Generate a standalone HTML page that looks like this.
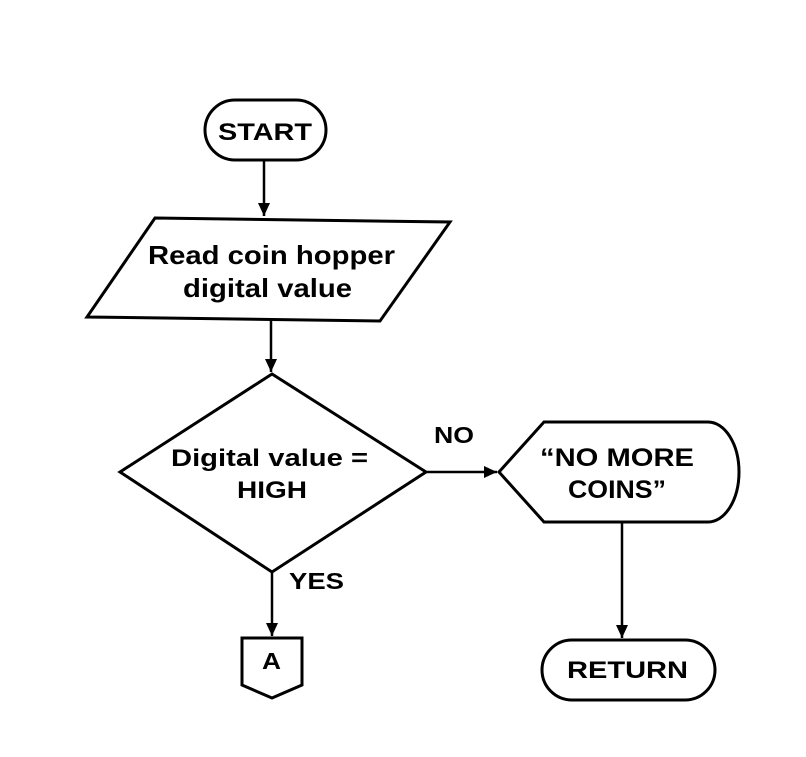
<!DOCTYPE html>
<html><head><style>body{margin:0;background:#fff}svg{display:block}</style></head><body>
<svg width="806" height="757" viewBox="0 0 806 757" xmlns="http://www.w3.org/2000/svg">
<defs>
<marker id="b" markerWidth="14" markerHeight="14" refX="13" refY="6" orient="auto" markerUnits="userSpaceOnUse"><path d="M0,0 L13,6 L0,12 z" fill="#000"/></marker></defs>
<g fill="none" stroke="#000" stroke-width="3">
<rect x="205" y="100" width="121" height="60" rx="30"/>
<polygon points="155,218 450,222 380,321 87,317"/>
<polygon points="272,374 426,472 272,572 120,472"/>
<path d="M499,472 L544,422 L708,422 A31,50 0 0 1 708,522 L544,522 Z"/>
<rect x="542" y="640" width="173" height="60" rx="30"/>
<path d="M242,638 L302,638 L302,685 L272,698 L242,685 Z"/>
<g stroke-width="2.5">
<line x1="264" y1="160" x2="264" y2="216" marker-end="url(#b)"/>
<line x1="271" y1="321" x2="271" y2="372" marker-end="url(#b)"/>
<line x1="427" y1="472" x2="497" y2="472" marker-end="url(#b)"/>
<line x1="272" y1="572" x2="272" y2="636" marker-end="url(#b)"/>
<line x1="622" y1="522" x2="622" y2="638" marker-end="url(#b)"/>
</g></g>
<g font-family="Liberation Sans, Arial, sans-serif" font-weight="bold" fill="#000" lengthAdjust="spacingAndGlyphs">
<text x="218" y="140" font-size="24" textLength="94" lengthAdjust="spacingAndGlyphs">START</text>
<text x="148" y="264" font-size="26" textLength="247" lengthAdjust="spacingAndGlyphs">Read coin hopper</text>
<text x="183" y="297" font-size="26" textLength="169" lengthAdjust="spacingAndGlyphs">digital value</text>
<text x="171" y="466" font-size="24" textLength="197" lengthAdjust="spacingAndGlyphs">Digital value =</text>
<text x="237" y="498" font-size="24" textLength="70" lengthAdjust="spacingAndGlyphs">HIGH</text>
<text x="434" y="443" font-size="23" textLength="40" lengthAdjust="spacingAndGlyphs">NO</text>
<text x="540" y="466" font-size="25" textLength="154" lengthAdjust="spacingAndGlyphs">“NO MORE</text>
<text x="568" y="498" font-size="25" textLength="98" lengthAdjust="spacingAndGlyphs">COINS”</text>
<text x="289" y="589" font-size="23" textLength="55" lengthAdjust="spacingAndGlyphs">YES</text>
<text x="262" y="669" font-size="23" textLength="19" lengthAdjust="spacingAndGlyphs">A</text>
<text x="567" y="678" font-size="24" textLength="121" lengthAdjust="spacingAndGlyphs">RETURN</text>
</g>
</svg>
</body></html>
